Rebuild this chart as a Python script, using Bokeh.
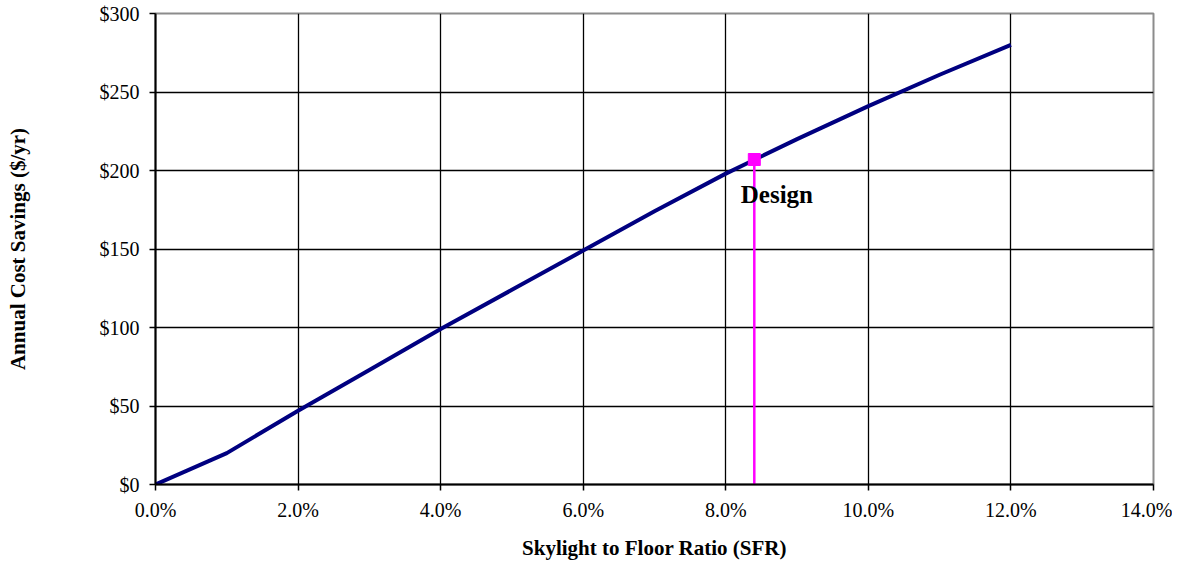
from bokeh.plotting import figure
from bokeh.models import FixedTicker, NumeralTickFormatter, Range1d, ColumnDataSource
from bokeh.embed import file_html
from bokeh.resources import INLINE
from bokeh.core.properties import value

# Data
sfr_pct = [0, 1, 2, 3, 4, 5, 6, 7, 8, 9, 10, 11, 12]
savings = [0, 20, 47, 73, 99, 124, 149, 174, 198, 220, 241, 261, 280]
design_sfr_pct = [8.4]
design_savings = [207]
design_label = ["Design"]
x_ticks_pct = [0, 2, 4, 6, 8, 10, 12, 14]
y_ticks = [0, 50, 100, 150, 200, 250, 300]

sfr = [v / 100 for v in sfr_pct]
dx = [v / 100 for v in design_sfr_pct]

p = figure(output_backend="svg", toolbar_location=None,
           frame_width=998, frame_height=471,
           min_border_left=155, min_border_right=19,
           min_border_top=13, min_border_bottom=72,
           x_range=Range1d(0, 0.14), y_range=Range1d(0, 300))
p.background_fill_color = "white"
p.border_fill_color = "white"
p.outline_line_color = "#8c8c8c"
p.outline_line_width = 2

serif = "Liberation Serif"

for ax in (p.xaxis[0], p.yaxis[0]):
    ax.axis_line_color = "black"
    ax.axis_line_width = 2
    ax.major_tick_line_color = "black"
    ax.major_tick_line_width = 1.5
    ax.major_tick_in = 0
    ax.major_tick_out = 6
    ax.minor_tick_line_color = None
    ax.major_label_text_font = serif
    ax.major_label_text_font_size = "20px"
    ax.major_label_text_color = "black"
    ax.axis_label_text_font = serif
    ax.axis_label_text_font_style = "bold"
    ax.axis_label_text_font_size = "21px"
    ax.axis_label_text_color = "black"

p.xaxis.ticker = FixedTicker(ticks=[v / 100 for v in x_ticks_pct])
p.yaxis.ticker = FixedTicker(ticks=y_ticks)
p.xaxis.formatter = NumeralTickFormatter(format="0.0%")
p.yaxis.formatter = NumeralTickFormatter(format="$0")
p.xaxis.axis_label = "Skylight to Floor Ratio (SFR)"
p.yaxis.axis_label = "Annual Cost Savings ($/yr)"
p.xaxis.major_label_standoff = 8
p.yaxis.major_label_standoff = 10
p.xaxis.axis_label_standoff = 12
p.yaxis.axis_label_standoff = 67

p.xgrid.grid_line_color = "black"
p.ygrid.grid_line_color = "black"
p.xgrid.grid_line_width = 1.3
p.ygrid.grid_line_width = 1.3

src = ColumnDataSource(dict(x=sfr, y=savings))
p.line("x", "y", source=src, line_color="#000080", line_width=4)

dsrc = ColumnDataSource(dict(x=dx, y=design_savings, y0=[0], label=design_label))
p.segment(x0="x", y0="y0", x1="x", y1="y", source=dsrc, line_color="#ff00ff", line_width=2.5)
p.scatter("x", "y", source=dsrc, marker="square", size=12, fill_color="#ff00ff", line_color="#ff00ff")
p.text(x=[0.0821], y=[184.5], text=design_label, text_font=value(serif), text_font_style="bold",
       text_font_size="25px", text_color="black", text_baseline="alphabetic", text_align="left")

open("out.html", "w").write(file_html(p, INLINE))
